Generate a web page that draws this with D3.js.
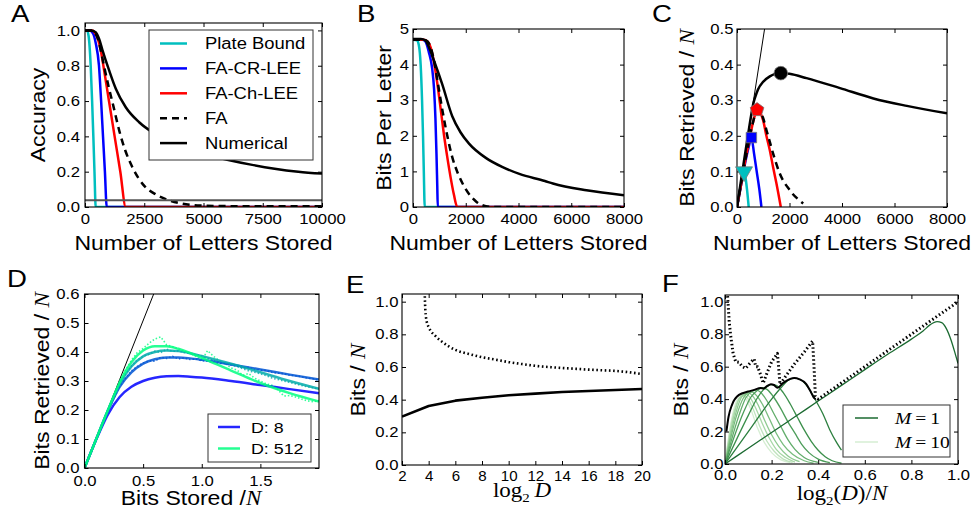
<!DOCTYPE html>
<html><head><meta charset="utf-8">
<script src="https://cdn.jsdelivr.net/npm/d3@7"></script>
<style>
body{margin:0;background:#fff}
text{font-family:"Liberation Sans",Arial,sans-serif;fill:#000}
.tick text{font-size:14.5px}
.serif{font-family:"Liberation Serif","Times New Roman",serif}
</style>
</head><body><svg id="c" width="976" height="516"></svg>
<script>
// ---------------- DATA ----------------
// Panel A: accuracy vs number of letters stored
const aPlateBound = [[0,1],[80,1],[150,0.97],[240,0.8],[300,0.6],[352,0.4],[400,0.2],[451,0],[10000,0]];
const aFACRLEE   = [[0,1],[200,1],[350,0.98],[450,0.93],[590,0.8],[680,0.6],[760,0.4],[840,0.2],[917,0],[10000,0]];
const aFAChLEE   = [[0,1],[300,1],[450,0.98],[550,0.95],[660,0.89],[800,0.78],[1000,0.61],[1250,0.4],[1490,0.2],[1720,0],[10000,0]];
const aFA        = [[0,1],[300,1],[450,0.98],[550,0.95],[660,0.89],[800,0.8],[1000,0.68],[1200,0.57],[1450,0.43],[1700,0.32],[2000,0.225],[2500,0.12],[3000,0.07],[3500,0.04],[4000,0.022],[4500,0.012],[5000,0.008],[6000,0.005],[10000,0.004]];
const aNumerical = [[0,1],[250,1],[451,0.99],[600,0.95],[733,0.89],[1015,0.775],[1300,0.67],[1720,0.565],[2285,0.48],[3000,0.41],[4000,0.34],[5000,0.3],[6000,0.268],[7000,0.24],[8000,0.217],[9000,0.2],[10000,0.189]];
const aChance = 0.0385;
const legendA = ["Plate Bound","FA-CR-LEE","FA-Ch-LEE","FA","Numerical"];

// Panel B: bits per letter
const bPlateBound = [[0,4.7],[150,4.68],[220,4.55],[290,4.0],[343,3.0],[380,2.0],[410,1.0],[445,0],[8000,0]];
const bFACRLEE   = [[0,4.7],[350,4.7],[470,4.65],[600,4.35],[725,3.9],[800,3.3],[850,2.5],[890,1.5],[920,0.6],[940,0],[8000,0]];
const bFAChLEE   = [[0,4.7],[400,4.7],[550,4.65],[661,4.5],[800,4.05],[916,3.5],[1050,2.75],[1170,2.05],[1300,1.4],[1424,0.84],[1550,0.35],[1679,0],[8000,0]];
const bFA        = [[0,4.7],[400,4.7],[550,4.65],[661,4.5],[800,4.1],[916,3.6],[1107,2.75],[1300,2.0],[1488,1.4],[1700,0.95],[2000,0.5],[2400,0.15],[2760,0.02],[3000,0],[8000,0]];
const bNumerical = [[0,4.72],[300,4.72],[470,4.68],[598,4.5],[800,4.1],[1107,3.45],[1488,2.55],[1800,2.1],[2124,1.78],[2760,1.38],[3400,1.12],[4032,0.93],[5000,0.73],[5304,0.66],[6576,0.47],[8000,0.33]];

// Panel C: bits retrieved / N
const cPlateBound = [[0,0],[100,0.04],[200,0.08],[268,0.099],[320,0.085],[380,0.05],[446,0]];
const cFACRLEE   = [[0,0],[150,0.06],[300,0.12],[450,0.17],[548,0.195],[650,0.15],[750,0.1],[850,0.05],[930,0]];
const cFAChLEE   = [[0,0],[150,0.06],[300,0.125],[450,0.18],[600,0.235],[700,0.262],[764,0.273],[850,0.268],[994,0.244],[1120,0.2],[1248,0.16],[1380,0.11],[1503,0.066],[1669,0]];
const cFA        = [[0,0],[300,0.125],[600,0.235],[764,0.273],[850,0.27],[994,0.25],[1121,0.216],[1250,0.183],[1376,0.15],[1630,0.094],[2013,0.047],[2522,0.01]];
const cNumerical = [[0,0],[200,0.097],[400,0.193],[550,0.262],[620,0.29],[700,0.31],[800,0.33],[1000,0.352],[1250,0.367],[1450,0.374],[1669,0.377],[2000,0.374],[2650,0.362],[3924,0.334],[5197,0.305],[6471,0.284],[8000,0.263]];
const cTangent   = [[0,0],[1050,0.5]];
const cPeaks     = [[268,0.099],[548,0.195],[764,0.273],[1669,0.376]];

// Panel D: bits retrieved vs bits stored, for several D
const dX     = [0,0.1,0.2,0.3,0.4,0.5,0.6,0.7,0.8,0.9,1.0,1.25,1.5,1.75,2.0];
const dD8    = [0,0.098,0.185,0.245,0.28,0.3,0.311,0.316,0.317,0.315,0.312,0.3,0.286,0.272,0.258];
const dD32   = [0,0.1,0.198,0.28,0.33,0.36,0.375,0.381,0.381,0.378,0.373,0.357,0.34,0.322,0.305];
const dD128  = [0,0.1,0.199,0.29,0.35,0.385,0.4,0.405,0.403,0.396,0.386,0.36,0.33,0.3,0.273];
const dD512  = [0,0.1,0.2,0.295,0.365,0.405,0.42,0.42,0.411,0.397,0.38,0.336,0.293,0.258,0.229];
const dSimX  = [0,0.05,0.1,0.15,0.2,0.25,0.3,0.35,0.4,0.45,0.5,0.55,0.6,0.65,0.7,0.75,0.8,0.85,0.9,0.95,1.0,1.05,1.1,1.15,1.2,1.25,1.3,1.35,1.4,1.45,1.5,1.55,1.6,1.65,1.7,1.75,1.8,1.85,1.9,1.95,2.0];
const dSim32  = [0,.05,.1,.148,.195,.24,.282,.31,.335,.35,.362,.37,.368,.382,.378,.385,.376,.38,.374,.376,.37,.368,.365,.36,.362,.355,.352,.345,.347,.34,.338,.336,.33,.327,.325,.32,.318,.315,.31,.308,.303];
const dSim128 = [0,.05,.1,.15,.2,.25,.292,.325,.352,.372,.385,.392,.403,.398,.41,.402,.404,.398,.395,.39,.385,.378,.372,.365,.36,.358,.35,.342,.335,.33,.325,.318,.31,.305,.3,.295,.29,.285,.28,.277,.272];
const dSim512 = [0,.05,.1,.15,.2,.25,.3,.338,.372,.398,.412,.43,.445,.452,.425,.418,.41,.402,.395,.385,.372,.405,.385,.37,.36,.345,.338,.32,.326,.31,.3,.29,.285,.27,.248,.25,.245,.238,.232,.228,.233];
const dIdentity = [[0,0],[0.59,0.6]];
const legendD = ["D: 8","D: 512"];

// Panel E: bits / N vs log2 D
const eX      = [2,4,6,8,10,12,14,16,18,20];
const eSolid  = [0.296,0.361,0.394,0.412,0.427,0.437,0.447,0.453,0.459,0.465];
const eDotX   = [3.7,3.75,3.85,4,4.5,5,6,7,8,9,10,11,12,13,14,15,16,17,18,19,20];
const eDotY   = [1.06,0.95,0.88,0.845,0.79,0.755,0.705,0.68,0.66,0.645,0.63,0.618,0.607,0.6,0.594,0.589,0.584,0.58,0.576,0.568,0.557];

// Panel F: bits / N vs log2(D)/N, M = 1..10
const fM1  = [[0,0],[0.1,0.097],[0.2,0.194],[0.3,0.291],[0.4,0.388],[0.5,0.485],[0.6,0.582],[0.7,0.678],[0.8,0.77],[0.85,0.82],[0.88,0.858],[0.91,0.878],[0.93,0.872],[0.95,0.835],[0.97,0.765],[0.99,0.67],[1.0,0.62]];
const fM2  = [[0,0],[0.1,0.2],[0.2,0.4],[0.24,0.47],[0.27,0.515],[0.3,0.53],[0.33,0.515],[0.36,0.465],[0.39,0.39],[0.42,0.31],[0.45,0.21],[0.48,0.13],[0.5,0.085]];
const fM3  = [[0,0],[0.1,0.3],[0.14,0.41],[0.17,0.465],[0.2,0.49],[0.22,0.485],[0.25,0.44],[0.28,0.37],[0.31,0.29],[0.34,0.21],[0.37,0.14],[0.4,0.085],[0.43,0.045],[0.46,0.02],[0.5,0.005]];
const fM4  = [[0,0],[0.08,0.32],[0.11,0.41],[0.14,0.455],[0.16,0.47],[0.18,0.46],[0.21,0.41],[0.24,0.34],[0.27,0.26],[0.3,0.19],[0.33,0.12],[0.36,0.07],[0.4,0.03],[0.45,0.008]];
const fM5  = [[0,0],[0.06,0.3],[0.09,0.41],[0.12,0.45],[0.135,0.455],[0.15,0.445],[0.18,0.39],[0.21,0.31],[0.24,0.23],[0.27,0.15],[0.3,0.09],[0.34,0.04],[0.4,0.01]];
const fM6  = [[0,0],[0.05,0.3],[0.08,0.41],[0.1,0.44],[0.115,0.445],[0.13,0.43],[0.16,0.37],[0.19,0.28],[0.22,0.19],[0.25,0.12],[0.29,0.06],[0.34,0.02],[0.38,0.005]];
const fM7  = [[0,0],[0.04,0.28],[0.07,0.41],[0.09,0.435],[0.1,0.44],[0.115,0.425],[0.14,0.37],[0.17,0.27],[0.2,0.18],[0.23,0.11],[0.27,0.05],[0.32,0.015]];
const fM8  = [[0,0],[0.035,0.28],[0.06,0.4],[0.08,0.43],[0.09,0.432],[0.105,0.415],[0.13,0.35],[0.16,0.25],[0.19,0.16],[0.22,0.09],[0.26,0.04],[0.3,0.012]];
const fM9  = [[0,0],[0.03,0.27],[0.055,0.39],[0.07,0.42],[0.08,0.425],[0.095,0.41],[0.12,0.34],[0.15,0.23],[0.18,0.14],[0.21,0.08],[0.25,0.03],[0.29,0.01]];
const fM10 = [[0,0],[0.025,0.25],[0.05,0.39],[0.065,0.415],[0.075,0.42],[0.09,0.4],[0.11,0.34],[0.14,0.22],[0.17,0.13],[0.2,0.07],[0.24,0.025],[0.28,0.008]];
const fEnvelope = [[0.006,0.2],[0.015,0.29],[0.03,0.365],[0.06,0.426],[0.1,0.447],[0.125,0.457],[0.153,0.468],[0.165,0.465],[0.18,0.48],[0.197,0.492],[0.21,0.487],[0.225,0.47],[0.25,0.5],[0.28,0.525],[0.297,0.53],[0.32,0.522],[0.347,0.495],[0.37,0.44],[0.383,0.406],[0.39,0.4]];
const fBound = [[0.01,1.06],[0.018,0.88],[0.024,0.795],[0.035,0.68],[0.046,0.63],[0.06,0.627],[0.075,0.6],[0.089,0.59],[0.1,0.61],[0.112,0.63],[0.125,0.648],[0.132,0.6],[0.14,0.6],[0.153,0.549],[0.164,0.498],[0.18,0.56],[0.2,0.63],[0.225,0.682],[0.23,0.6],[0.236,0.49],[0.26,0.54],[0.3,0.62],[0.34,0.69],[0.376,0.758],[0.382,0.6],[0.388,0.42],[0.4,0.4],[1.0,1.0]];
const legendF = ["1","10"];

// ---------------- STYLES ----------------
const S = 1.15; // horizontal text stretch of the original figure
const CYAN="#00bfbf", BLUE="#0000ff", RED="#ff0000", BLACK="#000";
const winter = ["#0000ff","#0055d4","#00aaaa","#00ff80"];
const greens = ["#1b6a31","#2c7f3f","#3b8f4b","#4d9d5a","#62ad6b","#78bc7d","#8fca91","#a7d7a6","#bfe3bd","#d6eed3"];

const svg = d3.select("#c");
const defs = svg.append("defs");

function panel(o){
  const x = d3.scaleLinear().domain(o.xd).range([o.x0,o.x1]);
  const y = d3.scaleLinear().domain(o.yd).range([o.y1,o.y0]);
  const id = "clip-"+o.id;
  defs.append("clipPath").attr("id",id).append("rect")
    .attr("x",o.x0).attr("y",o.y0).attr("width",o.x1-o.x0).attr("height",o.y1-o.y0);
  const root = svg.append("g");
  const plot = root.append("g").attr("clip-path",`url(#${id})`);
  const axes = root.append("g");
  const none = () => "";
  const ax = (gen,tr) => axes.append("g").attr("transform",tr).call(gen)
      .call(g=>g.select(".domain").remove()).attr("font-size",null).attr("font-family",null);
  const xa = ax(d3.axisBottom(x).tickValues(o.xt).tickFormat(o.xf).tickSizeInner(-4).tickSizeOuter(0).tickPadding(o.xpad), `translate(0,${o.y1})`);
  if (o.xs) xa.selectAll("text").attr("data-s", o.xs);
  ax(d3.axisTop(x).tickValues(o.xt).tickFormat(none).tickSizeInner(-4).tickSizeOuter(0), `translate(0,${o.y0})`);
  ax(d3.axisLeft(y).tickValues(o.yt).tickFormat(o.yf).tickSizeInner(-4).tickSizeOuter(0).tickPadding(o.ypad), `translate(${o.x0},0)`);
  ax(d3.axisRight(y).tickValues(o.yt).tickFormat(none).tickSizeInner(-4).tickSizeOuter(0), `translate(${o.x1},0)`);
  axes.append("rect").attr("x",o.x0).attr("y",o.y0).attr("width",o.x1-o.x0).attr("height",o.y1-o.y0)
    .attr("fill","none").attr("stroke","#000").attr("stroke-width",1.1);
  return {x,y,plot,root};
}
function draw(p, data, color, w, dash, curve){
  const gen = d3.line().x(d=>p.x(d[0])).y(d=>p.y(d[1])).curve(curve||d3.curveMonotoneX);
  return p.plot.append("path").attr("d",gen(data)).attr("fill","none").attr("stroke",color)
    .attr("stroke-width",w).attr("stroke-dasharray",dash||null).attr("stroke-linejoin","round");
}
const zip = (xs,ys) => xs.map((v,i)=>[v,ys[i]]);
function letter(t,x,y){ svg.append("text").attr("x",x).attr("y",y).attr("font-size",24).text(t); }
function xlabel(t,x,y){ return svg.append("text").attr("x",x).attr("y",y).attr("text-anchor","middle").attr("font-size",20).text(t); }
function ylabel(x,y){ return svg.append("text").attr("transform",`translate(${x},${y}) rotate(-90)`).attr("text-anchor","middle").attr("font-size",20); }

const f1 = d3.format(".1f"), fd = d3.format("d");

// ---------- Panel A ----------
const pA = panel({id:"A",x0:85,x1:322,y0:23,y1:207,xd:[0,10000],yd:[0,1.042],
  xt:[0,2500,5000,7500,10000],yt:[0,0.2,0.4,0.6,0.8,1.0],xf:fd,yf:f1,xpad:7,ypad:5});
draw(pA,aPlateBound,CYAN,2.5);
draw(pA,aFACRLEE,BLUE,2.5);
draw(pA,aFAChLEE,RED,2.5);
draw(pA,aFA,BLACK,2.5,"7,5");
draw(pA,aNumerical,BLACK,2.5);
pA.plot.append("line").attr("x1",pA.x(0)).attr("x2",pA.x(10000)).attr("y1",pA.y(aChance)).attr("y2",pA.y(aChance))
  .attr("stroke","#555").attr("stroke-width",2);
{
  const lg = pA.root.append("g");
  lg.append("rect").attr("x",149).attr("y",30).attr("width",164).attr("height",130).attr("fill","#fff").attr("stroke","#333").attr("stroke-width",1);
  const st = [[CYAN,null],[BLUE,null],[RED,null],[BLACK,"7,5"],[BLACK,null]];
  legendA.forEach((t,i)=>{
    const yy = 43.5 + i*24.9;
    lg.append("line").attr("x1",160).attr("x2",187).attr("y1",yy).attr("y2",yy).attr("stroke",st[i][0]).attr("stroke-width",2.5).attr("stroke-dasharray",st[i][1]);
    lg.append("text").attr("x",205).attr("y",yy).attr("dy","0.36em").attr("font-size",16).text(t);
  });
}
letter("A",11,22);
xlabel("Number of Letters Stored",203.5,250);
ylabel(45,115).text("Accuracy");

// ---------- Panel B ----------
const pB = panel({id:"B",x0:413,x1:624,y0:29,y1:207,xd:[0,8000],yd:[0,5],
  xt:[0,2000,4000,6000,8000],yt:[0,1,2,3,4,5],xf:fd,yf:fd,xpad:7,ypad:4});
draw(pB,bPlateBound,CYAN,2.5);
draw(pB,bFACRLEE,BLUE,2.5);
draw(pB,bFAChLEE,RED,2.5);
draw(pB,bFA,BLACK,2.5,"7,5");
draw(pB,bNumerical,BLACK,2.5);
letter("B",357,22);
xlabel("Number of Letters Stored",518.5,250);
ylabel(391,118).text("Bits Per Letter");

// ---------- Panel C ----------
const pC = panel({id:"C",x0:737,x1:947,y0:29,y1:207,xd:[0,8000],yd:[0,0.5],
  xt:[0,2000,4000,6000,8000],yt:[0,0.1,0.2,0.3,0.4,0.5],xf:fd,yf:f1,xpad:7,ypad:3.5});
draw(pC,cTangent,BLACK,1,null,d3.curveLinear);
draw(pC,cPlateBound,CYAN,2.5);
draw(pC,cFACRLEE,BLUE,2.5);
draw(pC,cFAChLEE,RED,2.5);
draw(pC,cFA,BLACK,2.5,"7,5");
draw(pC,cNumerical,BLACK,2.5);
{
  const mk = [
    {c:CYAN, p:d3.symbol(d3.symbolTriangle,125)(), rot:180},
    {c:BLUE, p:d3.symbol(d3.symbolSquare,110)(), rot:0},
    {c:RED,  p:(()=>{const r=7.2;return d3.range(5).map(k=>{const a=-Math.PI/2+k*2*Math.PI/5;return [r*Math.cos(a),r*Math.sin(a)];});})(), rot:0, poly:true},
    {c:BLACK,p:d3.symbol(d3.symbolCircle,145)(), rot:0}
  ];
  cPeaks.forEach((d,i)=>{
    const m = mk[i];
    const path = m.poly ? "M"+m.p.map(q=>q.join(",")).join("L")+"Z" : m.p;
    pC.root.append("path").attr("d",path)
      .attr("transform",`translate(${pC.x(d[0])},${pC.y(d[1])}) rotate(${m.rot})`)
      .attr("fill",m.c).attr("stroke","#777").attr("stroke-width",0.8);
  });
}
letter("C",652,22);
xlabel("Number of Letters Stored",842,250);
{ const t = ylabel(694,118); t.append("tspan").text("Bits Retrieved / "); t.append("tspan").attr("class","serif").attr("font-style","italic").text("N"); }

// ---------- Panel D ----------
const pD = panel({id:"D",x0:84.5,x1:319,y0:294,y1:468,xd:[0,2],yd:[0,0.6],
  xt:[0,0.5,1.0,1.5],yt:[0,0.1,0.2,0.3,0.4,0.5,0.6],xf:f1,yf:f1,xpad:8,ypad:5});
draw(pD,dIdentity,BLACK,1,null,d3.curveLinear);
draw(pD,zip(dSimX,dSim32),winter[1],1.6,"1.5,2",d3.curveLinear).attr("opacity",0.8);
draw(pD,zip(dSimX,dSim128),winter[2],1.6,"1.5,2",d3.curveLinear).attr("opacity",0.8);
draw(pD,zip(dSimX,dSim512),winter[3],1.6,"1.5,2",d3.curveLinear).attr("opacity",0.8);
[dD8,dD32,dD128,dD512].forEach((ys,i)=>draw(pD,zip(dX,ys),winter[i],2.5).attr("opacity",0.85));
{
  const lg = pD.root.append("g");
  lg.append("rect").attr("x",208).attr("y",414).attr("width",103).attr("height",48).attr("fill","#fff").attr("stroke","#333");
  legendD.forEach((t,i)=>{
    const yy = 427 + i*21.5;
    lg.append("line").attr("x1",218).attr("x2",240).attr("y1",yy).attr("y2",yy).attr("stroke",i?winter[3]:winter[0]).attr("stroke-width",2.5).attr("opacity",0.85);
    lg.append("text").attr("x",251).attr("y",yy).attr("dy","0.36em").attr("font-size",15.5).text(t);
  });
}
letter("D",7,287);
{ const t = svg.append("text").attr("x",191).attr("y",505).attr("text-anchor","middle").attr("font-size",20);
  t.append("tspan").text("Bits Stored /"); t.append("tspan").attr("class","serif").attr("font-style","italic").text("N"); }
{ const t = ylabel(49,381); t.append("tspan").text("Bits Retrieved / "); t.append("tspan").attr("class","serif").attr("font-style","italic").text("N"); }

// ---------- Panel E ----------
const pE = panel({id:"E",x0:402,x1:642,y0:294,y1:465,xd:[2,20],yd:[0,1.047],
  xt:[2,4,6,8,10,12,14,16,18,20],yt:[0,0.2,0.4,0.6,0.8,1.0],xf:fd,yf:f1,xpad:6,ypad:3.5,xs:1.04});
draw(pE,zip(eDotX,eDotY),BLACK,2.6,"1.6,2.6");
draw(pE,zip(eX,eSolid),BLACK,2.6,null,d3.curveLinear);
letter("E",346,293);
{ const t = svg.append("text").attr("x",522).attr("y",497).attr("text-anchor","middle").attr("class","serif").attr("font-size",20);
  t.append("tspan").text("log"); t.append("tspan").attr("font-size",13).attr("dy",5).text("2");
  t.append("tspan").attr("dy",-5).attr("font-style","italic").text("\u2009D"); }
{ const t = ylabel(365,380); t.append("tspan").text("Bits / "); t.append("tspan").attr("class","serif").attr("font-style","italic").text("N"); }

// ---------- Panel F ----------
const pF = panel({id:"F",x0:725,x1:958,y0:295,y1:464,xd:[0,1],yd:[0,1.042],
  xt:[0,0.2,0.4,0.6,0.8,1.0],yt:[0,0.2,0.4,0.6,0.8,1.0],xf:f1,yf:f1,xpad:6,ypad:1.5});
const fCurves = [fM1,fM2,fM3,fM4,fM5,fM6,fM7,fM8,fM9,fM10];
fCurves.slice().reverse().forEach((c,k)=>draw(pF,c,greens[9-k],1.3));
draw(pF,fBound,BLACK,3,"1.5,2.5",d3.curveLinear);
draw(pF,fEnvelope,BLACK,2);
{
  const lg = pF.root.append("g");
  lg.append("rect").attr("x",843).attr("y",405).attr("width",107).attr("height",52).attr("fill","#fff").attr("stroke","#333");
  legendF.forEach((t,i)=>{
    const yy = 418 + i*24;
    lg.append("line").attr("x1",855).attr("x2",878).attr("y1",yy).attr("y2",yy).attr("stroke",i?greens[9]:greens[0]).attr("stroke-width",1.5);
    const tx = lg.append("text").attr("x",895).attr("y",yy).attr("dy","0.36em").attr("class","serif").attr("font-size",17);
    tx.append("tspan").attr("font-style","italic").text("M");
    tx.append("tspan").text("\u2009=\u2009"+t);
  });
}
letter("F",662,292);
{ const t = svg.append("text").attr("x",842).attr("y",500).attr("text-anchor","middle").attr("class","serif").attr("font-size",20);
  t.append("tspan").text("log"); t.append("tspan").attr("font-size",13).attr("dy",5).text("2");
  t.append("tspan").attr("dy",-5).text("(");
  t.append("tspan").attr("font-style","italic").text("D");
  t.append("tspan").text(")/");
  t.append("tspan").attr("font-style","italic").text("N"); }
{ const t = ylabel(688,380); t.append("tspan").text("Bits / "); t.append("tspan").attr("class","serif").attr("font-style","italic").text("N"); }

// ---------- horizontal stretch of all text ----------
svg.selectAll("text").each(function(){
  const w = this.getComputedTextLength();
  const s = +(this.getAttribute("data-s") || S);
  if (w > 0) { this.setAttribute("textLength",(w*s).toFixed(2)); this.setAttribute("lengthAdjust","spacingAndGlyphs"); }
});
</script></body></html>
